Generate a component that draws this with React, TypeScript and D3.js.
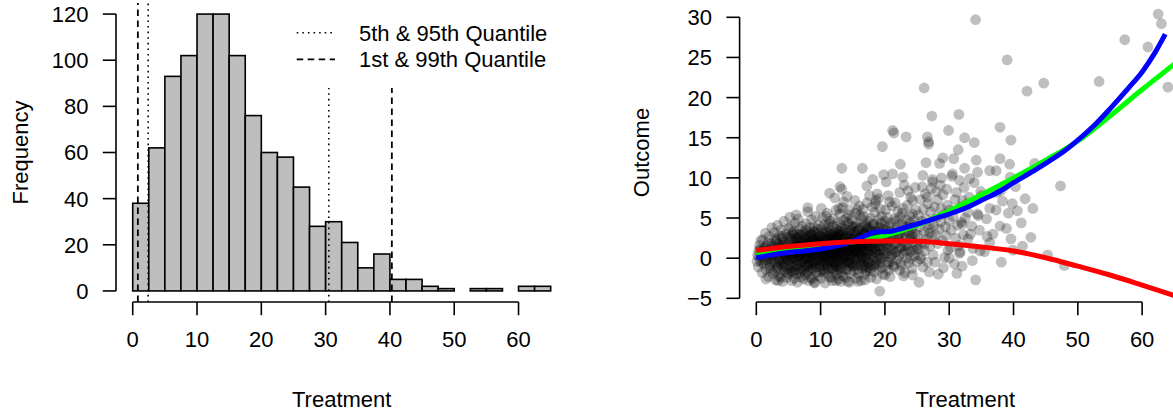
import React from 'react';
import * as d3 from 'd3';

const W = 1173;
const H = 416;
const FONT = '"Liberation Sans", Arial, Helvetica, sans-serif';

// Histogram of treatment: 2.5 wide bins from 0 to 65
const binWidth = 2.5;
const binCounts = [38, 62, 93, 102, 120, 120, 102, 76, 60, 58, 45, 28, 30, 21, 10, 16, 5, 5, 2, 1, 0, 1, 1, 0, 2, 2];

const freqTicks = [0, 20, 40, 60, 80, 100, 120];
const treatTicks = [0, 10, 20, 30, 40, 50, 60];
const outcomeTicks = [-5, 0, 5, 10, 15, 20, 25, 30];

// quantile markers: [treatment, top of segment in frequency units]
const quantDotted = [[2.4, 125], [30.5, 88]];
const quantDashed = [[0.8, 125], [40.3, 88]];
const legendLabels = ['5th & 95th Quantile', '1st & 99th Quantile'];

// fitted curves [treatment, outcome]
const greenFit = [[0, 0.55], [5, 1.15], [10, 1.55], [15, 2.05], [20, 2.8], [25, 4.1], [30, 5.9], [35, 7.9], [40, 10.0], [45, 12.2], [50, 14.6], [55, 17.7], [60, 21.0], [66, 24.8]];
const blueFit = [[0, 0.05], [2, 0.35], [5, 0.7], [8, 0.95], [10, 1.15], [12, 1.45], [14, 1.85], [16, 2.45], [17.5, 3.0], [18.5, 3.25], [20, 3.3], [21, 3.35], [22, 3.55], [25, 4.25], [28, 5.0], [30, 5.5], [33, 6.4], [35, 7.2], [38, 8.4], [40, 9.4], [43, 10.8], [45, 11.8], [48, 13.4], [50, 14.7], [53, 16.9], [55, 18.6], [58, 21.3], [60, 23.2], [62, 25.6], [63.6, 27.9]];
const redFit = [[0, 0.95], [5, 1.45], [10, 1.8], [15, 2.05], [20, 2.15], [25, 2.1], [30, 1.8], [35, 1.4], [40, 0.9], [45, 0.05], [50, -1.0], [55, -2.1], [60, -3.35], [66, -4.9]];

// scatter points [treatment, outcome], grouped by treatment range
const pts0to5 = [
  [0.2, 0.4], [0.3, -1.1], [0.5, 1.6], [0.6, -0.3], [0.8, 0.9], [0.9, -1.8], [1.0, 2.3], [1.1, 0.1], [1.2, -0.7], [1.3, 1.2],
  [1.4, 3.1], [1.5, -1.4], [1.6, 0.6], [1.7, -0.2], [1.8, 1.9], [1.9, -2.3], [2.0, 0.8], [2.0, 2.7], [2.1, -0.9], [2.2, 1.4],
  [2.3, -1.6], [2.3, 0.3], [2.4, 3.8], [2.4, -0.5], [0.4, 1.0], [0.7, 2.2], [1.5, -2.6], [1.9, 1.0], [2.2, -0.1], [0.1, -0.4],
  [2.6, 0.2], [2.6, -1.9], [2.7, 1.5], [2.8, 3.2], [2.9, -0.6], [3.0, 0.9], [3.0, -2.7], [3.1, 2.1], [3.2, -1.2], [3.3, 0.4],
  [3.3, 4.1], [3.4, 1.8], [3.5, -0.2], [3.5, -2.2], [3.6, 2.8], [3.7, 0.7], [3.7, -1.5], [3.8, 1.2], [3.9, 3.5], [3.9, -0.8],
  [4.0, 0.1], [4.0, 2.4], [4.1, -2.9], [4.1, 1.6], [4.2, -0.4], [4.3, 0.9], [4.3, 4.6], [4.4, -1.7], [4.4, 2.0], [4.5, 0.3],
  [4.5, -1.0], [4.6, 3.0], [4.6, 1.3], [4.7, -2.4], [4.7, 0.6], [4.8, 2.6], [4.8, -0.1], [4.9, 1.1], [4.9, -1.3], [5.0, 3.7],
  [2.8, 0.7], [3.2, 1.0], [3.6, -0.5], [4.0, 1.5], [4.2, -1.1], [2.9, 2.5], [3.8, -2.4], [4.6, 0.0], [3.4, -0.9], [4.9, 0.5],
  [3.4, -2.8],
];
const pts5to10 = [
  [5.0, -0.3], [5.1, 1.9], [5.1, -2.0], [5.2, 5.1], [5.2, 0.6], [5.3, 2.7], [5.3, -1.2], [5.4, 0.2], [5.4, 3.9], [5.5, -2.8],
  [5.5, 1.4], [5.6, -0.6], [5.6, 2.2], [5.7, 0.9], [5.7, -1.7], [5.8, 3.3], [5.8, 0.1], [5.9, 1.7], [5.9, -2.5], [6.0, 4.4],
  [6.0, 0.5], [6.1, -0.9], [6.1, 2.5], [6.2, 1.1], [6.2, -1.9], [6.3, 3.0], [6.3, -0.2], [6.4, 1.8], [6.4, -3.0], [6.5, 0.8],
  [6.5, 4.9], [6.6, -1.4], [6.6, 2.1], [6.7, 0.3], [6.7, 3.6], [6.8, -0.7], [6.8, 1.5], [6.9, -2.3], [6.9, 2.8], [7.0, 0.6],
  [7.0, -1.1], [7.1, 4.0], [7.1, 1.2], [7.2, -0.4], [7.2, 2.3], [7.3, -2.6], [7.3, 0.9], [7.4, 3.2], [7.4, -0.1], [7.5, 1.6],
  [5.3, 1.0], [5.6, -0.1], [5.9, 0.7], [6.1, 1.4], [6.4, 0.2], [6.6, 0.9], [6.9, 1.0], [7.2, 0.4], [5.4, -1.6], [6.0, -1.5],
  [6.7, -1.9], [7.0, 2.0], [5.8, 2.9], [6.3, 2.6], [7.3, 1.8], [5.1, 0.4], [6.8, 0.2], [7.4, -1.4], [6.2, 5.4], [5.7, 1.3],
  [7.5, -0.5], [7.6, 2.4], [7.6, -2.1], [7.7, 0.8], [7.7, 4.3], [7.8, 1.3], [7.8, -1.0], [7.9, 3.0], [7.9, 0.1], [8.0, 5.8],
  [8.0, 1.9], [8.1, -2.8], [8.1, 0.6], [8.2, 2.7], [8.2, -0.6], [8.3, 1.4], [8.3, 3.8], [8.4, -1.5], [8.4, 0.3], [8.5, 2.2],
  [8.5, -2.4], [8.6, 1.0], [8.6, 4.8], [8.7, -0.2], [8.7, 2.9], [8.8, 1.6], [8.8, -1.3], [8.9, 0.4], [8.9, 3.4], [9.0, -3.0],
  [9.0, 1.1], [9.1, 2.0], [9.1, -0.8], [9.2, 5.2], [9.2, 0.7], [9.3, 2.6], [9.3, -1.8], [9.4, 1.3], [9.4, -0.3], [9.5, 3.6],
  [9.5, 0.9], [9.6, -2.2], [9.6, 2.1], [9.7, 0.2], [9.7, 4.1], [9.8, 1.5], [9.8, -1.1], [9.9, 2.8], [9.9, 0.5], [10.0, -0.4],
  [7.6, 1.1], [7.9, 1.7], [8.2, 0.0], [8.5, 0.8], [8.8, 2.3], [9.1, 1.4], [9.4, 2.4], [9.7, 1.8], [8.0, -0.9], [8.6, -0.7],
  [9.2, -0.6], [9.8, 0.3], [7.8, 3.5], [8.4, 3.2], [9.0, 3.9], [9.6, 3.1], [8.1, -1.6], [8.7, -2.6], [9.3, 0.0], [9.9, -1.7],
  [7.7, -0.1], [8.3, 2.0], [8.9, 1.2], [9.5, 1.9], [8.0, 6.3], [9.1, -3.1],
];
const pts10to15 = [
  [10.0, 2.3], [10.1, 0.8], [10.1, -2.5], [10.2, 3.7], [10.2, 1.2], [10.3, -0.9], [10.3, 5.0], [10.4, 0.2], [10.4, 2.6], [10.5, -1.4],
  [10.5, 1.7], [10.6, 4.2], [10.6, -0.3], [10.7, 2.0], [10.7, -3.1], [10.8, 0.9], [10.8, 3.1], [10.9, -0.7], [10.9, 1.5], [11.0, 5.6],
  [11.0, 0.4], [11.1, 2.4], [11.1, -1.9], [11.2, 1.1], [11.2, 3.9], [11.3, -0.1], [11.3, 2.8], [11.4, -2.3], [11.4, 1.6], [11.5, 0.6],
  [11.5, 4.6], [11.6, -1.2], [11.6, 2.2], [11.7, 0.0], [11.7, 3.4], [11.8, 1.3], [11.8, -2.8], [11.9, 2.9], [11.9, 0.7], [12.0, -0.5],
  [12.0, 4.9], [12.1, 1.9], [12.1, -1.6], [12.2, 0.3], [12.2, 3.2], [12.3, 1.0], [12.3, -0.8], [12.4, 2.5], [12.4, 6.0], [12.5, -2.0],
  [10.2, -0.2], [10.5, 0.5], [10.8, 1.9], [11.1, 1.0], [11.4, 0.3], [11.7, 1.8], [12.0, 2.1], [12.3, 0.4], [10.4, 3.0], [10.9, 2.6],
  [11.3, 4.3], [11.8, 2.4], [12.2, -0.2], [10.6, -1.8], [11.0, -1.0], [11.5, -0.6], [11.9, -1.3], [12.4, 1.2], [10.3, 1.4], [10.7, 1.1],
  [11.2, -0.4], [11.6, 0.9], [12.1, 0.6], [12.5, 3.6], [10.1, 6.2], [11.4, 8.1], [12.2, 7.5], [10.9, 5.2], [11.7, -2.4], [12.4, -1.0],
  [10.0, 1.6], [11.0, 3.3], [11.9, 4.0], [12.3, 2.8], [10.6, 0.0],
  [12.5, 0.9], [12.6, 2.7], [12.6, -1.1], [12.7, 4.4], [12.7, 0.2], [12.8, 1.8], [12.8, -2.6], [12.9, 3.3], [12.9, 0.6], [13.0, -0.4],
  [13.0, 5.5], [13.1, 1.4], [13.1, 2.9], [13.2, -1.8], [13.2, 0.8], [13.3, 3.8], [13.3, -0.2], [13.4, 2.1], [13.4, 6.3], [13.5, 0.4],
  [13.5, -2.2], [13.6, 1.6], [13.6, 4.7], [13.7, -0.8], [13.7, 2.5], [13.8, 0.1], [13.8, 3.6], [13.9, 1.2], [13.9, -1.4], [14.0, 5.0],
  [14.0, 2.0], [14.1, -0.6], [14.1, 0.9], [14.2, 3.1], [14.2, -2.9], [14.3, 1.7], [14.3, 4.2], [14.4, 0.3], [14.4, -1.0], [14.5, 2.6],
  [14.5, 6.0], [14.6, 1.0], [14.6, -0.3], [14.7, 3.4], [14.7, -1.9], [14.8, 2.2], [14.8, 0.5], [14.9, 4.8], [14.9, 1.5], [15.0, -0.9],
  [12.6, 1.3], [12.9, 2.0], [13.2, 2.4], [13.5, 1.1], [13.8, 1.9], [14.1, 2.7], [14.4, 1.4], [14.7, 2.0], [12.7, -0.5], [13.0, -1.3],
  [13.4, 0.0], [13.7, -0.1], [14.0, 0.7], [14.3, -0.4], [14.6, 0.2], [14.9, -0.7], [12.8, 3.0], [13.1, 4.1], [13.6, 3.2], [14.2, 4.5],
  [14.8, 3.9], [13.3, 11.2], [13.3, 8.6], [13.0, 8.9], [14.1, 7.7], [12.4, -2.8], [14.5, -3.0], [13.9, -2.4], [13.1, -2.9], [14.4, 5.4],
  [12.9, 6.2], [13.6, 7.0], [14.0, 1.1], [13.4, 1.5], [12.6, 0.5],
];
const pts15to20 = [
  [15.0, 2.4], [15.1, 0.6], [15.1, 4.0], [15.2, -1.6], [15.2, 1.8], [15.3, 3.2], [15.3, -0.2], [15.4, 5.6], [15.4, 1.1], [15.5, -2.5],
  [15.5, 2.8], [15.6, 0.4], [15.6, 4.4], [15.7, 1.6], [15.7, -0.9], [15.8, 3.5], [15.8, 0.9], [15.9, -1.9], [15.9, 2.3], [16.0, 6.5],
  [16.0, 0.1], [16.1, 1.4], [16.1, 3.8], [16.2, -0.6], [16.2, 2.7], [16.3, -2.8], [16.3, 1.0], [16.4, 4.9], [16.4, 0.5], [16.5, 2.0],
  [16.5, 11.2], [16.6, -1.3], [16.6, 3.1], [16.7, 0.8], [16.7, 5.2], [16.8, 1.9], [16.8, -0.4], [16.9, 2.9], [16.9, -2.0], [17.0, 4.2],
  [17.0, 1.2], [17.1, 0.0], [17.1, 3.4], [17.2, 6.9], [17.2, 1.7], [17.3, -1.1], [17.3, 2.5], [17.4, 0.6], [17.4, 4.6], [17.5, -0.5],
  [15.2, 0.3], [15.6, 2.0], [16.0, 2.6], [16.4, 1.6], [16.8, 2.3], [17.2, 0.9], [15.4, -0.7], [15.9, 0.7], [16.3, -0.2], [16.7, -0.8],
  [17.1, -1.6], [15.5, 3.9], [16.1, 5.3], [16.6, 6.1], [17.3, 3.7], [15.8, -2.9], [16.9, -2.7], [15.3, 7.2], [16.2, 1.3], [17.0, 2.8],
  [15.0, 1.0], [16.5, 0.0], [17.4, 2.0], [15.7, 6.0], [16.8, 4.0],
  [17.5, 1.5], [17.6, 3.8], [17.6, -1.2], [17.7, 0.4], [17.7, 5.0], [17.8, 2.2], [17.8, -2.4], [17.9, 3.1], [17.9, 0.9], [18.0, 6.4],
  [18.0, -0.3], [18.1, 1.8], [18.1, 9.8], [18.2, 4.3], [18.2, 0.2], [18.3, 2.6], [18.3, -1.7], [18.4, 1.2], [18.4, 5.7], [18.5, 3.4],
  [18.5, -0.7], [18.6, 0.7], [18.6, 7.2], [18.7, 2.0], [18.7, -2.6], [18.8, 8.0], [18.8, 3.9], [18.9, 1.4], [18.9, -0.1], [19.0, 4.8],
  [19.0, 2.8], [19.1, -1.4], [19.1, 0.5], [19.2, -4.1], [19.2, 3.3], [19.3, 6.1], [19.3, 1.0], [19.4, -0.6], [19.4, 2.4], [19.5, 5.2],
  [19.6, 13.9], [19.6, 1.7], [19.7, -2.0], [19.7, 3.6], [19.8, 10.4], [19.8, 0.3], [19.9, 2.1], [20.0, 4.6], [17.2, 9.0], [18.5, 6.8],
  [17.9, -0.8], [19.5, 0.0], [18.2, 2.9], [19.0, 7.4], [17.6, 7.8],
];
const pts20to30 = [
  [20.0, -2.1], [20.1, 1.9], [20.1, 6.0], [20.2, 9.5], [20.2, 3.4], [20.3, 0.6], [20.3, 2.5], [20.4, -0.8], [20.4, 5.1], [20.5, 1.3],
  [20.6, 3.9], [20.6, -1.5], [20.7, 7.0], [20.7, 2.2], [20.8, 0.1], [20.9, 4.4], [20.9, 1.6], [21.0, -0.4], [21.0, 3.0], [21.1, 6.5],
  [21.2, 15.9], [21.2, 10.5], [21.2, 1.1], [21.3, 2.7], [21.4, 15.6], [21.4, -1.1], [21.5, 4.9], [21.6, 0.7], [21.7, 3.5], [21.8, 1.9],
  [21.9, -0.2], [22.0, 5.8], [22.1, 2.4], [22.2, 0.3], [22.3, 8.2], [22.3, 5.1], [22.3, -1.5], [22.4, 11.7], [22.4, 3.1], [22.5, 1.4],
  [20.5, 7.8], [21.6, 6.9], [20.8, -2.3], [21.9, 3.9], [21.1, 0.4],
  [22.6, 4.3], [22.6, -0.9], [22.7, 2.0], [22.8, 10.1], [22.8, 6.2], [22.9, 0.6], [23.0, 9.1], [23.0, 3.4], [23.1, -1.8], [23.1, 1.5],
  [23.2, 4.8], [23.3, 15.1], [23.3, 2.6], [23.4, 0.0], [23.5, 6.6], [23.5, 3.9], [23.6, 1.1], [23.7, -0.6], [23.8, 5.3], [23.9, 2.3],
  [24.0, 7.6], [24.0, 0.8], [24.1, 3.6], [24.2, -1.3], [24.3, 7.2], [24.3, 5.5], [24.3, -2.1], [24.4, 2.0], [24.5, 4.1], [24.6, 0.3],
  [24.7, 3.0], [24.8, 6.0], [24.9, 1.6], [25.0, -0.4], [23.6, 8.4], [24.7, 8.8], [22.9, -2.2], [23.9, 4.4], [24.5, 1.0], [23.2, 0.9],
  [22.7, 5.6], [24.1, 2.7],
  [25.1, 2.9], [25.2, 5.4], [25.3, -3.0], [25.3, 1.2], [25.4, 3.9], [25.5, 7.3], [25.6, 0.2], [25.7, 4.6], [25.8, 2.0], [25.9, 10.3],
  [25.9, -1.1], [26.0, 6.1], [26.1, 21.2], [26.1, 3.3], [26.2, 0.9], [26.3, 8.0], [26.4, 11.9], [26.4, 4.9], [26.5, 2.4], [26.6, 15.1],
  [26.6, -0.5], [26.7, 6.8], [26.8, 14.2], [26.8, 14.5], [26.8, 3.7], [26.9, 3.1], [26.9, -1.7], [27.0, 1.5], [27.1, 5.8], [27.2, 8.7],
  [27.3, 17.7], [27.3, 2.7], [27.4, 9.8], [27.4, 9.5], [27.5, 0.4], [25.5, -0.1], [26.2, 1.8], [27.0, 4.2], [25.8, 8.9], [26.6, 7.6],
  [27.6, 4.0], [27.7, 6.4], [27.8, -0.5], [27.9, 2.9], [28.0, 8.3], [28.1, 5.1], [28.2, 7.3], [28.2, 1.8], [28.4, 3.6], [28.5, 11.8],
  [28.6, 9.1], [28.7, 6.2], [28.7, 4.5], [28.9, 2.2], [29.0, 7.9], [29.1, -1.2], [29.2, 5.5], [29.3, 0.1], [29.4, 3.9], [29.5, 2.8],
  [29.6, 8.6], [29.7, 6.6], [29.8, 1.0], [29.9, 15.9], [30.0, 4.7], [28.3, -2.0], [29.0, 12.5], [28.8, 10.0],
];
const pts30up = [
  [30.1, 6.0], [30.2, 1.3], [30.3, 3.5], [30.4, 10.2], [30.5, 10.5], [30.6, 5.2], [30.8, -0.7], [30.9, 7.3], [31.0, 2.5], [31.1, 8.2],
  [31.3, 4.1], [31.5, 17.9], [31.5, 1.6], [31.6, 9.7], [31.6, 0.6], [31.7, 0.8], [31.8, 6.4], [31.9, 4.5], [32.0, 4.2], [32.1, 7.2],
  [32.2, 2.9], [32.4, 11.2], [32.4, 15.0], [32.5, 5.0], [30.7, 12.4], [31.2, -1.9], [32.3, 8.8], [30.0, 0.0], [31.4, 13.5], [32.0, -1.0],
  [32.6, 6.7], [32.9, 5.7], [32.9, 2.4], [33.2, 9.9], [33.5, 4.0], [33.7, 1.2], [33.9, 9.4], [33.9, 14.4], [34.1, 29.7], [34.1, -2.7],
  [34.2, 12.2], [34.4, 10.7], [34.4, 5.5], [34.5, 5.3], [34.7, 3.5], [34.9, 8.3], [35.0, 7.8], [33.1, 7.6], [33.6, -0.3], [34.8, 0.9],
  [33.3, 3.0],
  [35.5, 0.8], [35.8, 4.9], [36.3, 1.9], [36.3, 6.2], [36.3, 10.9], [36.8, 3.0], [37.3, 6.0], [37.3, 10.9], [37.4, 8.2], [35.9, 2.7],
  [37.9, 16.3], [37.9, 12.4], [37.9, 4.0], [38.1, -0.5], [38.3, 7.1], [38.6, 9.0], [38.9, 3.7], [39.0, 24.7], [39.2, 5.6], [39.4, 11.7],
  [39.5, 10.1], [39.6, 14.7], [39.6, 2.4], [39.9, 1.0], [38.0, 8.4], [39.8, 6.8],
  [40.3, 8.9], [40.6, 5.9], [41.2, 4.4], [41.4, 1.5], [41.8, 7.4], [42.1, 20.8], [42.7, 2.6], [43.0, 6.2], [43.3, 11.8], [44.7, 21.8],
  [45.3, 0.4], [47.3, 9.0], [47.9, -0.9], [53.3, 22.0], [57.3, 27.2], [60.9, 26.3], [62.5, 30.4], [63.0, 29.2], [64.0, 21.3],
];
// dense core of the cloud, where the points overlap into black
const ptsCore = [
  [0.4, 0.2], [0.6, 1.1], [0.9, -0.6], [1.1, 0.9], [1.3, -0.2], [1.6, 1.5], [1.8, 0.3], [2.1, -1.2], [2.3, 1.8], [2.5, 0.5],
  [2.7, -0.4], [2.9, 1.2], [3.1, -1.6], [3.2, 2.3], [3.4, 0.6], [3.6, 1.5], [3.8, -0.2], [3.9, 0.9], [4.1, 2.7], [4.2, 0.5],
  [4.4, -0.6], [4.5, 1.7], [4.7, 1.0], [4.8, -1.8], [5.0, 0.8], [5.1, 2.5], [5.2, -0.8], [5.4, 1.2], [5.5, 0.0], [5.6, 3.1],
  [5.8, -1.1], [5.9, 1.0], [6.0, 2.0], [6.1, -0.3], [6.2, 0.6], [6.3, 1.6], [6.5, -0.9], [6.5, 2.4], [6.6, 0.4], [6.8, 3.0],
  [6.9, -0.4], [7.0, 1.3], [7.1, -1.6], [7.2, 1.5], [7.3, 2.9], [7.4, 0.5], [7.5, -1.0], [7.6, 1.8], [7.7, 2.6], [7.8, 0.0],
  [7.9, -1.8], [8.0, 1.2], [8.1, 2.2], [8.2, -0.3], [8.3, 0.7], [8.4, 1.7], [8.5, 3.0], [8.6, -1.2], [8.6, 0.3], [8.7, 1.4],
  [8.8, 2.6], [8.9, -0.5], [9.0, 0.6], [9.1, 3.2], [9.2, 1.8], [9.3, -1.1], [9.4, 0.7], [9.5, 2.3], [9.6, -0.4], [9.7, 1.1],
  [9.8, 2.7], [9.9, -0.9], [10.0, 1.0], [10.1, 2.0], [10.2, 0.3], [10.3, -1.5], [10.4, 1.6], [10.5, 3.3], [10.6, 0.8], [10.7, -0.6],
  [10.8, 2.4], [10.9, 0.1], [11.0, 1.5], [11.1, -1.3], [11.2, 2.2], [11.3, 0.9], [11.4, 3.0], [11.5, -0.3], [11.6, 1.6], [11.7, 2.6],
  [11.8, 0.2], [11.9, -1.0], [12.0, 1.2], [12.1, 3.1], [12.2, 1.5], [12.3, -0.5], [12.4, 0.7], [12.5, 2.2], [12.6, -1.5], [12.7, 1.0],
  [12.8, 2.9], [12.9, 0.0], [13.0, 1.7], [13.1, -0.7], [13.2, 3.4], [13.3, 1.1], [13.4, -1.2], [13.5, 2.6], [13.6, 0.3], [13.7, 1.5],
  [13.8, -0.4], [13.9, 2.8], [14.0, 0.2], [14.1, 1.8], [14.2, -1.4], [14.3, 2.4], [14.4, 0.9], [14.5, 3.5], [14.6, -0.6], [14.7, 1.3],
  [14.8, 2.9], [14.9, 0.3], [15.0, 1.7], [15.1, -1.0], [15.2, 2.6], [15.3, 0.8], [15.4, 3.3], [15.5, -0.2], [15.6, 1.2], [15.7, 2.4],
  [15.8, -1.4], [15.9, 1.4], [16.0, 3.6], [16.1, 0.4], [16.2, 2.0], [16.3, -0.9], [16.4, 2.9], [16.5, 1.1], [16.6, 0.2], [16.7, 3.1],
  [16.8, -1.1], [16.9, 1.6], [17.0, 0.1], [17.1, 2.4], [17.2, 3.9], [17.3, 0.7], [17.4, -0.6], [17.5, 2.8], [17.6, 1.4], [17.7, -1.6],
  [17.8, 3.4], [17.9, 1.9], [18.0, 0.5], [18.1, 2.7], [18.2, -1.0], [18.3, 4.2], [18.4, 0.8], [18.5, 1.9], [18.6, -0.4], [18.7, 3.2],
  [18.8, 1.1], [18.9, 2.5], [19.0, -0.8], [19.1, 3.8], [19.2, 1.4], [19.3, 0.0], [19.4, 4.4], [19.5, 2.2], [19.6, -1.2], [19.7, 1.0],
  [19.8, 3.0], [19.9, 0.6], [20.1, 4.0], [20.3, 1.7], [20.5, -0.5], [20.7, 3.3], [20.9, 0.9], [21.1, 2.6], [21.3, -0.9], [21.5, 1.8],
  [21.7, 4.6], [21.9, 0.8], [22.1, 3.0], [22.3, 1.2], [22.5, -0.6], [22.8, 2.6], [23.1, 4.0], [23.4, 1.7], [23.7, 3.2], [24.0, -0.1],
  [24.3, 2.9], [24.6, 4.7], [24.9, 1.1], [6.4, 1.1], [7.1, 0.8], [8.4, 0.8], [9.3, 1.6], [10.4, 0.9], [11.2, 0.5], [12.0, 0.4],
  [13.0, 0.9], [13.8, 1.2], [14.6, 1.9], [15.4, 1.6], [16.3, 1.8], [17.2, 1.5], [18.2, 1.5], [11.5, 1.9], [10.9, 1.2], [12.6, 2.6],
];

const scatter = [...pts0to5, ...pts5to10, ...pts10to15, ...pts15to20, ...pts20to30, ...pts30up, ...ptsCore];

export default function App() {
  // left panel scales
  const xL = d3.scaleLinear().domain([-2.6, 67.6]).range([116, 567.4]);
  const yL = d3.scaleLinear().domain([-4.8, 124.8]).range([302, 3]);
  // right panel scales
  const xR = d3.scaleLinear().domain([-2.6, 67.6]).range([739.6, 1191]);
  const yR = d3.scaleLinear().domain([-5.46, 31.78]).range([302, 3]);

  const line = d3.line<number[]>()
    .x(d => xR(d[0]))
    .y(d => yR(d[1]))
    .curve(d3.curveMonotoneX);

  const axisColor = '#000';
  const lw = 1.6;
  const tick = 13.2;
  const fs = 22;

  const xAxis = (x: d3.ScaleLinear<number, number>, key: string) => (
    <g key={key}>
      <line x1={x(treatTicks[0])} x2={x(treatTicks[treatTicks.length - 1])} y1={302} y2={302} stroke={axisColor} strokeWidth={lw} />
      {treatTicks.map(t => (
        <g key={t}>
          <line x1={x(t)} x2={x(t)} y1={302} y2={302 + tick} stroke={axisColor} strokeWidth={lw} />
          <text x={x(t)} y={347} textAnchor="middle">{t}</text>
        </g>
      ))}
      <text x={(x.range()[0] + x.range()[1]) / 2} y={407} textAnchor="middle">Treatment</text>
    </g>
  );

  const yAxis = (y: d3.ScaleLinear<number, number>, ticks: number[], x0: number) => (
    <g>
      <line x1={x0} x2={x0} y1={y(ticks[0])} y2={y(ticks[ticks.length - 1])} stroke={axisColor} strokeWidth={lw} />
      {ticks.map(t => (
        <g key={t}>
          <line x1={x0 - tick} x2={x0} y1={y(t)} y2={y(t)} stroke={axisColor} strokeWidth={lw} />
          <text x={x0 - 27.5} y={y(t)} dy="0.36em" textAnchor="end">{t < 0 ? '\u2212' + Math.abs(t) : t}</text>
        </g>
      ))}
    </g>
  );

  return (
    <svg width={W} height={H} style={{ position: 'absolute', left: 0, top: 0, background: '#fff' }}
      fontFamily={FONT} fontSize={fs} fill="#000">
      <defs>
        <clipPath id="clipL"><rect x={116} y={3} width={451.4} height={299} /></clipPath>
        <clipPath id="clipR"><rect x={739.6} y={3} width={451.4} height={299} /></clipPath>
      </defs>

      {/* Left: histogram */}
      <g>
        {binCounts.map((c, i) => (
          <rect key={i}
            x={xL(i * binWidth)} width={xL((i + 1) * binWidth) - xL(i * binWidth)}
            y={yL(c)} height={yL(0) - yL(c)}
            fill="#bebebe" stroke="#000" strokeWidth={1.6} />
        ))}
        <g clipPath="url(#clipL)">
          {quantDotted.map(([q, top], i) => (
            <line key={'dt' + i} x1={xL(q)} x2={xL(q)} y1={yL(-4.8)} y2={yL(top)}
              stroke="#000" strokeWidth={1.6} strokeDasharray="1.6 4" />
          ))}
          {quantDashed.map(([q, top], i) => (
            <line key={'ds' + i} x1={xL(q)} x2={xL(q)} y1={yL(-4.8)} y2={yL(top)}
              stroke="#000" strokeWidth={1.8} strokeDasharray="6.5 4.5" />
          ))}
        </g>
        {xAxis(xL, 'xl')}
        {yAxis(yL, freqTicks, 116)}
        <text transform={`translate(28, ${(yL.range()[0] + yL.range()[1]) / 2}) rotate(-90)`} textAnchor="middle">Frequency</text>

        {/* legend */}
        {legendLabels.map((lab, i) => (
          <g key={lab}>
            <line x1={296.7} x2={335} y1={32.7 + i * 26.6} y2={32.7 + i * 26.6} stroke="#000"
              strokeWidth={i === 0 ? 1.6 : 1.8} strokeDasharray={i === 0 ? '1.6 4' : '6.5 4.5'} />
            <text x={359} y={32.7 + i * 26.6} dy="0.36em">{lab}</text>
          </g>
        ))}
      </g>

      {/* Right: scatter with fitted curves */}
      <g>
        <g clipPath="url(#clipR)">
          {scatter.map((p, i) => (
            <circle key={i} cx={xR(p[0])} cy={yR(p[1])} r={5.4} fill="#000" fillOpacity={0.25} />
          ))}
          <path d={line(greenFit) || ''} fill="none" stroke="#00ff00" strokeWidth={5} />
          <path d={line(blueFit) || ''} fill="none" stroke="#0000ff" strokeWidth={5} />
          <path d={line(redFit) || ''} fill="none" stroke="#ff0000" strokeWidth={5} />
        </g>
        {xAxis(xR, 'xr')}
        {yAxis(yR, outcomeTicks, 739.6)}
        <text transform={`translate(649, ${(yR.range()[0] + yR.range()[1]) / 2}) rotate(-90)`} textAnchor="middle">Outcome</text>
      </g>
    </svg>
  );
}
